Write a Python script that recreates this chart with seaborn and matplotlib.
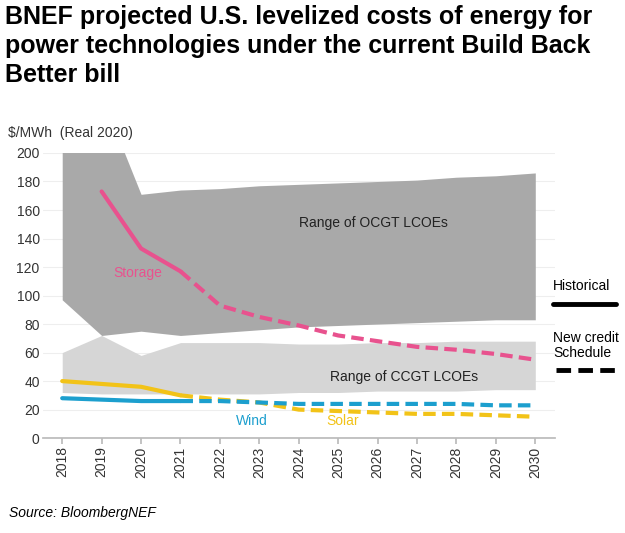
import matplotlib.pyplot as plt
import seaborn as sns
import numpy as np
import pandas as pd

years = list(range(2018, 2031))
ocgt_high = [240, 240, 171, 174, 175, 177, 178, 179, 180, 181, 183, 184, 186]
ocgt_low = [97, 72, 75, 72, 74, 76, 78, 79, 80, 81, 82, 83, 83]
ccgt_high = [60, 72, 58, 67, 67, 67, 66, 66, 67, 67, 68, 68, 68]
ccgt_low = [32, 31, 31, 31, 31, 31, 32, 32, 33, 33, 33, 34, 34]
storage = [np.nan, 173, 133, 117, 93, 85, 79, 72, 68, 64, 62, 59, 55]
solar = [40, 38, 36, 30, 27, 25, 20, 19, 18, 17, 17, 16, 15]
wind = [28, 27, 26, 26, 26, 25, 24, 24, 24, 24, 24, 23, 23]

sns.set_theme(style="white")
plt.rcParams['font.family'] = ['Liberation Sans', 'DejaVu Sans']

df = pd.DataFrame({'year': years, 'storage': storage, 'solar': solar, 'wind': wind})
hist = df[df['year'] <= 2021]
proj = df[df['year'] >= 2021]

fig = plt.figure(figsize=(6.25, 5.33), dpi=100)
ax = fig.add_axes([0.068, 0.178, 0.82, 0.535])

ax.fill_between(years, ocgt_low, ocgt_high, color='#a9a9a9', lw=0)
ax.fill_between(years, ccgt_low, ccgt_high, color='#d6d6d6', lw=0)

colors = {'storage': '#e8528e', 'solar': '#f2c318', 'wind': '#1c9fce'}
for name, c in colors.items():
    sns.lineplot(data=hist, x='year', y=name, color=c, lw=3, ax=ax)
    sns.lineplot(data=proj, x='year', y=name, color=c, lw=3, ax=ax, linestyle=(0, (3, 1.5)))

ax.text(2024.0, 148, 'Range of OCGT LCOEs', fontsize=10, color='#222')
ax.text(2024.8, 40, 'Range of CCGT LCOEs', fontsize=10, color='#222')
ax.text(2019.3, 113, 'Storage', fontsize=10, color=colors['storage'])
ax.text(2022.4, 9, 'Wind', fontsize=10, color=colors['wind'])
ax.text(2024.7, 9, 'Solar', fontsize=10, color=colors['solar'])

ax.set_xlim(2017.5, 2030.5)
ax.set_ylim(0, 200)
ax.set_yticks(range(0, 201, 20))
ax.set_xticks(years)
ax.set_xticklabels([str(y) for y in years], rotation=90, fontsize=10)
ax.tick_params(axis='both', labelcolor='#333333')
ax.tick_params(axis='y', labelsize=10, length=0, pad=2)
ax.set_xlabel('')
ax.set_ylabel('')
ax.grid(axis='y', color='#eeeeee', lw=0.8)
for s in ['top', 'right', 'left']:
    ax.spines[s].set_visible(False)
ax.spines['bottom'].set_color('#bbbbbb')
ax.tick_params(axis='x', length=4, color='#bbbbbb', bottom=True, pad=2)
ax.set_axisbelow(True)

fig.text(0.013, 0.743, '$/MWh  (Real 2020)', fontsize=10, color='#333333')

fig.text(0.008, 0.99, 'BNEF projected U.S. levelized costs of energy for\npower technologies under the current Build Back\nBetter bill',
         fontsize=18, fontweight='bold', va='top', linespacing=1.25, color='black')
fig.text(0.015, 0.03, 'Source: BloombergNEF', fontsize=10, style='italic', color='black')

fig.text(0.885, 0.455, 'Historical', fontsize=10, color='black')
fig.add_artist(plt.Line2D([0.885, 0.985], [0.43, 0.43], color='black', lw=3.5))
fig.text(0.885, 0.33, 'New credit\nSchedule', fontsize=10, linespacing=1.1, color='black')
fig.add_artist(plt.Line2D([0.89, 0.99], [0.305, 0.305], color='black', lw=3.5, linestyle=(0, (3, 1.5))))

fig.savefig('out.png', dpi=100, facecolor='white')
